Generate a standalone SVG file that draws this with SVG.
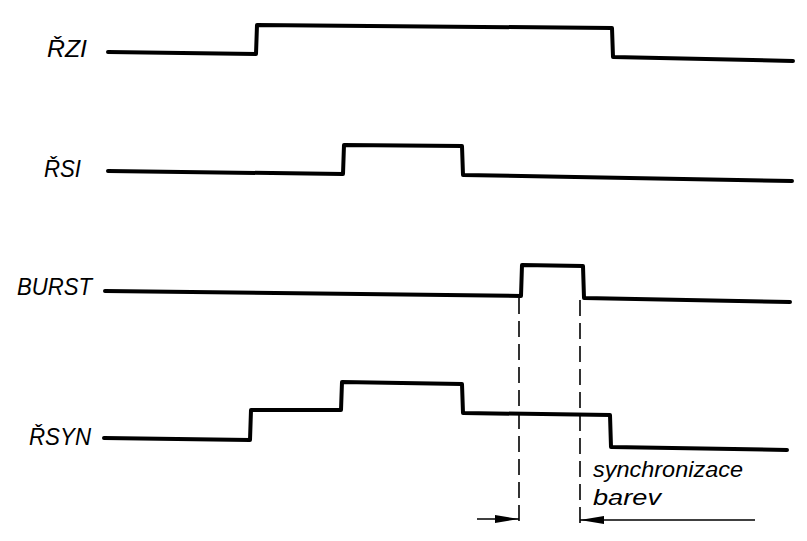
<svg xmlns="http://www.w3.org/2000/svg" width="807" height="541" viewBox="0 0 807 541">
<defs>
<style>
.sig{fill:none;stroke:#000;stroke-width:4;stroke-linejoin:round;stroke-linecap:round}
.lbl{font-family:"Liberation Sans",Arial,sans-serif;font-style:italic;font-size:23px;fill:#000}
.note{font-family:"Liberation Sans",Arial,sans-serif;font-style:italic;font-size:22px;fill:#000}
.dash{fill:none;stroke:#000;stroke-width:1.6;stroke-dasharray:16,7}
.dim{fill:none;stroke:#000;stroke-width:1.6}
</style>
<marker id="ah" markerWidth="24" markerHeight="10" refX="24" refY="5" orient="auto" markerUnits="userSpaceOnUse">
<path d="M0,1 L24,5 L0,9 Z" fill="#000"/>
</marker>
</defs>
<rect width="807" height="541" fill="#fff"/>
<g id="RZI">
<text class="lbl" x="47" y="57" textLength="40" lengthAdjust="spacingAndGlyphs">ŘZI</text>
<polyline class="sig" points="108,52 256,54 257,25 612,28 613,57 793,61"/>
</g>
<g id="RSI">
<text class="lbl" x="44" y="177" textLength="37" lengthAdjust="spacingAndGlyphs">ŘSI</text>
<polyline class="sig" points="108,171 343,174 344,145 462,146 463,175 792,181"/>
</g>
<g id="BURST">
<text class="lbl" x="17" y="295" textLength="75" lengthAdjust="spacingAndGlyphs">BURST</text>
<polyline class="sig" points="105,291 521,296 522,265 583,266 584,298 790,302"/>
</g>
<g id="RSYN">
<text class="lbl" x="29" y="445" textLength="62" lengthAdjust="spacingAndGlyphs">ŘSYN</text>
<polyline class="sig" points="104,438 250,440 251,410 341,410 342,382 462,384 463,413 610,415 611,447 787,450"/>
</g>
<g id="note">
<text class="note" x="593" y="477" textLength="150" lengthAdjust="spacingAndGlyphs">synchronizace</text>
<text class="note" x="593" y="505" textLength="68" lengthAdjust="spacingAndGlyphs">barev</text>
</g>
<g id="connectors">
<line class="dash" x1="519" y1="298" x2="519" y2="524"/>
<line class="dash" x1="580" y1="300" x2="580" y2="524"/>
<line class="dim" x1="477" y1="519" x2="519" y2="519" marker-end="url(#ah)"/>
<line class="dim" x1="755" y1="520" x2="580" y2="520" marker-end="url(#ah)"/>
</g>
</svg>
